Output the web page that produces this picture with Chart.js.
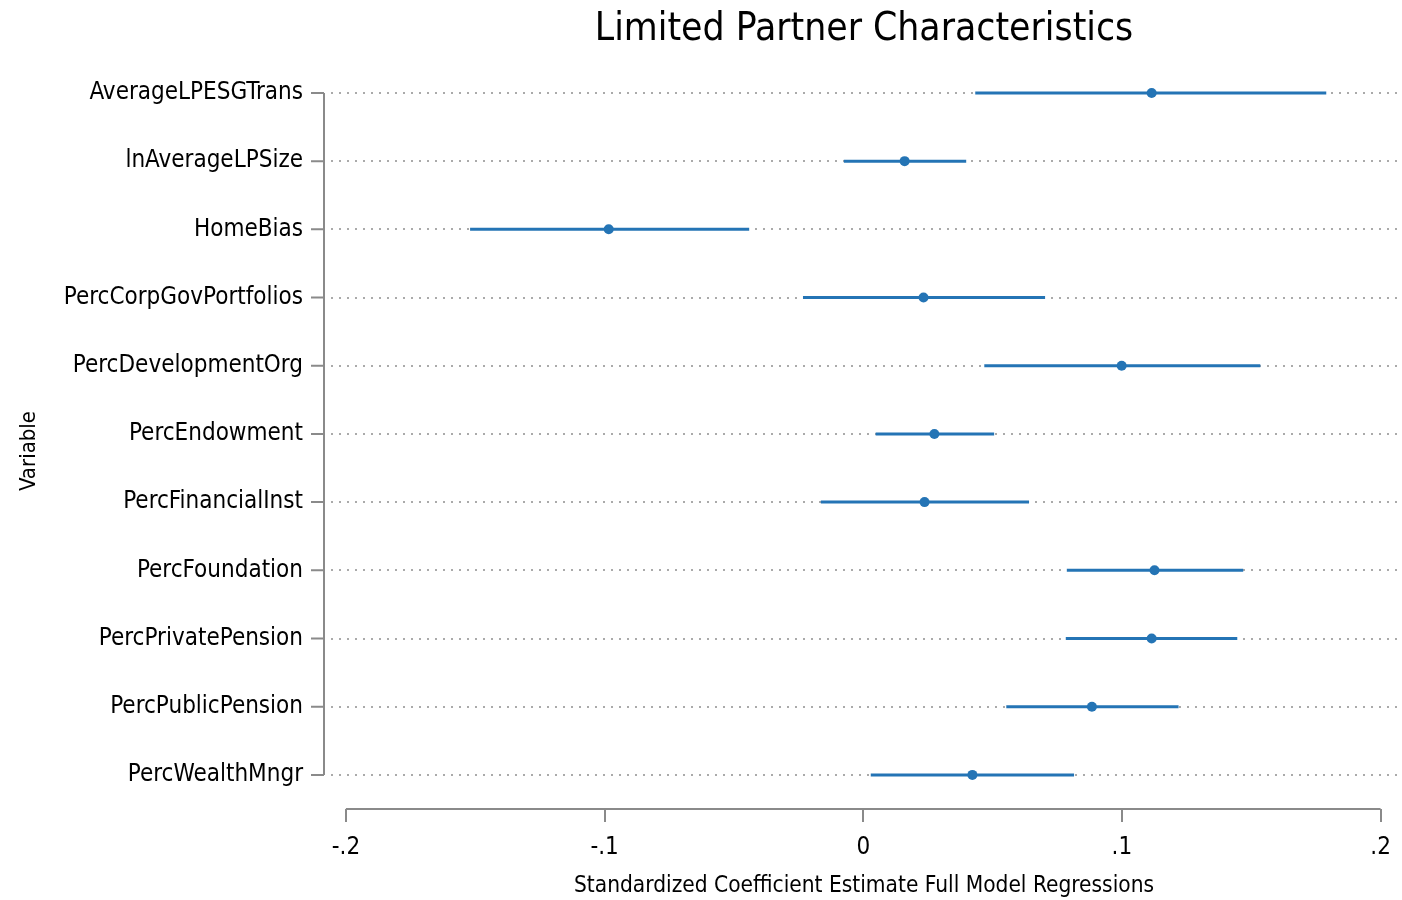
<!DOCTYPE html>
<html>
<head>
<meta charset="utf-8">
<script src="https://cdn.jsdelivr.net/npm/chart.js@4.4.1/dist/chart.umd.min.js"></script>
<style>
  body { margin: 0; background: #fff; }
  #wrap { width: 1402px; height: 900px; position: relative; }
</style>
</head>
<body>
<div id="wrap"><canvas id="c"></canvas></div>
<script>
// values
const categories = ['AverageLPESGTrans', 'lnAverageLPSize', 'HomeBias', 'PercCorpGovPortfolios',
  'PercDevelopmentOrg', 'PercEndowment', 'PercFinancialInst', 'PercFoundation',
  'PercPrivatePension', 'PercPublicPension', 'PercWealthMngr']
const coef = [0.1115, 0.016, -0.0984, 0.0233, 0.0999, 0.0275, 0.0237, 0.1126, 0.1115, 0.0884, 0.0422]
const ciLow = [0.0433, -0.0075, -0.152, -0.0233, 0.0468, 0.0048, -0.0164, 0.0787, 0.0783, 0.0553, 0.0029]
const ciHigh = [0.179, 0.0398, -0.0441, 0.0703, 0.1535, 0.0506, 0.0641, 0.1469, 0.1446, 0.1219, 0.0815]
const xTickValues = [-0.2, -0.1, 0, 0.1, 0.2]
const xTickLabels = ['-.2', '-.1', '0', '.1', '.2']

const blue = '#2474b5'
const axisGrey = '#8a8a8a'
const fontFamily = "'Liberation Sans Narrow', 'Arial Narrow', 'DejaVu Sans Condensed', sans-serif"

Chart.defaults.font.family = fontFamily
Chart.defaults.color = '#000'

// one short line per row for the confidence interval
const ciSets = categories.map((c, i) => ({
  data: [{ x: ciLow[i], y: i }, { x: ciHigh[i], y: i }],
  showLine: true,
  borderColor: blue,
  borderWidth: 3,
  pointRadius: 0,
  clip: false
}))

// axis lines that stop at the end ticks, like the original
const axisLines = {
  id: 'axisLines',
  afterDraw(chart) {
    const ctx = chart.ctx
    const x = chart.scales.x
    const y = chart.scales.y
    ctx.save()
    ctx.strokeStyle = axisGrey
    ctx.lineWidth = 2
    // x axis
    const bottom = chart.chartArea.bottom
    ctx.beginPath()
    ctx.moveTo(x.getPixelForValue(xTickValues[0]), bottom)
    ctx.lineTo(x.getPixelForValue(xTickValues[xTickValues.length - 1]), bottom)
    ctx.stroke()
    // y axis with tick marks
    const yx = chart.chartArea.left - 7
    ctx.beginPath()
    ctx.moveTo(yx, y.getPixelForValue(0))
    ctx.lineTo(yx, y.getPixelForValue(categories.length - 1))
    categories.forEach((c, i) => {
      const py = y.getPixelForValue(i)
      ctx.moveTo(yx - 13, py)
      ctx.lineTo(yx, py)
    })
    ctx.stroke()
    ctx.restore()
  }
}

new Chart(document.getElementById('c'), {
  type: 'scatter',
  data: {
    datasets: [
      ...ciSets,
      {
        data: coef.map((v, i) => ({ x: v, y: i })),
        backgroundColor: blue,
        borderColor: blue,
        pointRadius: 5,
        borderWidth: 0,
        clip: false
      }
    ]
  },
  options: {
    responsive: true,
    maintainAspectRatio: false,
    animation: false,
    layout: { padding: 0 },
    plugins: {
      legend: { display: false },
      tooltip: { enabled: false },
      title: {
        display: true,
        text: 'Limited Partner Characteristics',
        fullSize: false,
        font: { size: 38.7, weight: 'normal' },
        padding: { top: 7, bottom: 39.5 }
      }
    },
    scales: {
      x: {
        type: 'linear',
        min: -0.20577,
        max: 0.20635,
        afterBuildTicks: (s) => { s.ticks = xTickValues.map(v => ({ value: v })) },
        afterFit: (s) => {
          s.height = 91
          // let the grid run to the canvas edge, no room kept for the '.2' label
          s.paddingLeft = 0
          s.paddingRight = 0
          if (s._margins) {
            s._margins.left = 0
            s._margins.right = 0
          }
        },
        border: { display: false },
        grid: { drawOnChartArea: false, drawTicks: true, tickLength: 13, color: axisGrey, lineWidth: 2 },
        ticks: {
          font: { size: 24 },
          padding: 11,
          maxRotation: 0,
          callback: (v) => xTickLabels[xTickValues.indexOf(v)]
        },
        title: {
          display: true,
          text: 'Standardized Coefficient Estimate Full Model Regressions',
          font: { size: 22.5 },
          padding: { top: 0, bottom: 0 }
        }
      },
      y: {
        type: 'linear',
        reverse: true,
        min: 0,
        max: 10.5,
        afterBuildTicks: (s) => { s.ticks = categories.map((c, i) => ({ value: i })) },
        afterFit: (s) => { s.width = 331 },
        border: { display: false, dash: [2, 6] },
        grid: { drawTicks: false, color: '#aaaaaa', lineWidth: 2 },
        ticks: {
          font: { size: 24 },
          padding: 28,
          callback: (v) => categories[v]
        },
        title: {
          display: true,
          text: 'Variable',
          font: { size: 22 },
          padding: { top: 16, bottom: 0 }
        }
      }
    }
  },
  plugins: [axisLines]
})
</script>
</body>
</html>
